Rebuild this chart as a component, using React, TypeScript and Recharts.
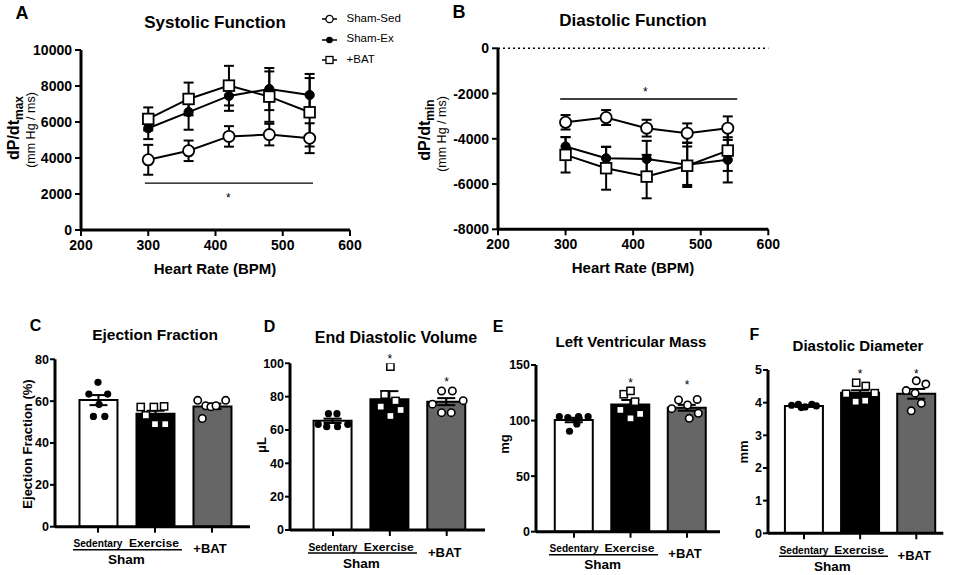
import React from 'react';
import {
  LineChart, Line, XAxis, YAxis, ErrorBar, ReferenceLine, ReferenceDot,
  ComposedChart, Bar, Cell, Scatter,
} from 'recharts';

const FONT = '"Liberation Sans", Arial, Helvetica, sans-serif';

// ---------- Panels A & B (hemodynamics vs heart rate) ----------
const heartRate = [300, 360, 420, 480, 540];
const hrTicks = [200, 300, 400, 500, 600];
const sysTicks = [0, 2000, 4000, 6000, 8000, 10000];
const diaTicks = [-8000, -6000, -4000, -2000, 0];
const seriesNames = ['Sham-Sed', 'Sham-Ex', '+BAT'];

const sysSed = [3900, 4400, 5200, 5300, 5100];
const sysSedErr = [830, 570, 570, 600, 830];
const sysEx = [5650, 6550, 7450, 7830, 7500];
const sysExErr = [600, 980, 830, 1170, 1170];
const sysBat = [6170, 7280, 8020, 7410, 6540];
const sysBatErr = [640, 910, 1100, 1400, 1900];

const diaSed = [-3270, -3060, -3530, -3750, -3530];
const diaSedErr = [320, 330, 370, 430, 520];
const diaEx = [-4340, -4860, -4890, -5150, -4930];
const diaExErr = [420, 500, 800, 980, 1000];
const diaBat = [-4710, -5300, -5670, -5190, -4520];
const diaBatErr = [780, 950, 960, 850, 900];

// significance bars (x from, x to, y) and star (x, y)
const sysSig = [295, 545, 2600];
const sysStar = [419, 1940];
const diaSig = [292, 554, -2240];
const diaStar = [418, -1840];

// ---------- Panels C-F (bar + individual points) ----------
const groupLabels = ['Sedentary', 'Exercise', '+BAT'];
const barFills = ['#ffffff', '#000000', '#666666'];

// C: Ejection Fraction (%)
const efMean = [60.5, 54.0, 57.5];
const efSem = [2.4, 1.4, 1.3];
const efSedVals = [69.0, 63.4, 63.4, 58.5, 52.7, 52.7];
const efSedPos = [1.0, 0.84, 1.17, 1.02, 0.92, 1.12];
const efExVals = [57.2, 57.2, 57.5, 53.2, 49.0, 49.0];
const efExPos = [1.75, 1.98, 2.16, 1.84, 2.0, 2.18];
const efBatVals = [60.4, 57.8, 57.3, 57.8, 60.4, 51.7];
const efBatPos = [2.75, 2.89, 2.98, 3.07, 3.24, 2.83];

// D: End Diastolic Volume (uL)
const edvMean = [65.5, 78.5, 77.0];
const edvSem = [1.3, 4.8, 2.1];
const edvSedVals = [69.8, 69.8, 63.4, 62.0, 62.0, 63.4];
const edvSedPos = [0.92, 1.07, 0.74, 0.89, 1.08, 1.26];
const edvExVals = [98.0, 81.2, 77.4, 74.0, 72.0, 68.4];
const edvExPos = [2.01, 1.91, 2.1, 1.84, 2.19, 2.01];
const edvBatVals = [83.4, 83.4, 75.5, 77.6, 70.4, 70.4];
const edvBatPos = [2.91, 3.1, 2.75, 3.29, 2.91, 3.08];
const edvStars = [[2, 104], [3, 90]];

// E: Left Ventricular Mass (mg)
const lvmMean = [100.5, 114.5, 111.5];
const lvmSem = [2.0, 4.0, 2.6];
const lvmSedVals = [103.5, 102.6, 103.5, 103.5, 97.0, 90.4];
const lvmSedPos = [0.74, 0.89, 1.08, 1.25, 1.05, 0.92];
const lvmExVals = [123.7, 126.7, 117.0, 109.6, 106.0, 102.0];
const lvmExPos = [1.88, 2.0, 2.08, 1.82, 2.17, 2.0];
const lvmBatVals = [118.5, 114.0, 119.0, 110.7, 106.6, 102.0];
const lvmBatPos = [2.85, 3.01, 3.18, 2.73, 3.2, 3.04];
const lvmStars = [[2, 136], [3, 134]];

// F: Diastolic Diameter (mm)
const ddMean = [3.9, 4.3, 4.27];
const ddSem = [0.03, 0.08, 0.15];
const ddSedVals = [3.92, 3.95, 3.87, 3.95, 3.9, 3.85];
const ddSedPos = [0.78, 0.9, 1.02, 1.14, 1.22, 0.95];
const ddExVals = [4.61, 4.51, 4.27, 4.29, 4.03, 4.06];
const ddExPos = [1.93, 2.1, 1.75, 2.26, 1.92, 2.09];
const ddBatVals = [4.67, 4.57, 4.37, 4.29, 3.98, 3.75];
const ddBatPos = [3.0, 3.17, 2.82, 2.98, 3.09, 2.91];
const ddStars = [[2, 4.95], [3, 4.95]];

// ---------- shared styles ----------
const axisLine = { stroke: '#000', strokeWidth: 3 };
const tickLine = { stroke: '#000', strokeWidth: 2 };
const lineTick = { fill: '#000', fontSize: 14, fontWeight: 700, fontFamily: FONT };
const barTick = { fill: '#000', fontSize: 12.5, fontWeight: 700, fontFamily: FONT };

const OpenCircle = (p: any) =>
  p.cx == null ? <g /> : <circle cx={p.cx} cy={p.cy} r={5.6} fill="#fff" stroke="#000" strokeWidth={1.8} />;
const FilledCircle = (p: any) =>
  p.cx == null ? <g /> : <circle cx={p.cx} cy={p.cy} r={4.6} fill="#000" stroke="#000" strokeWidth={1} />;
const OpenSquare = (p: any) =>
  p.cx == null ? <g /> : <rect x={p.cx - 5.3} y={p.cy - 5.3} width={10.6} height={10.6} fill="#fff" stroke="#000" strokeWidth={1.8} />;

const DotFilled = (p: any) => <circle cx={p.cx} cy={p.cy} r={3.6} fill="#000" />;
const DotSquare = (p: any) => <rect x={p.cx - 3.6} y={p.cy - 3.6} width={7.2} height={7.2} fill="#fff" stroke="#000" strokeWidth={1.5} />;
const DotOpen = (p: any) => <circle cx={p.cx} cy={p.cy} r={3.7} fill="#fff" stroke="#000" strokeWidth={1.6} />;

const Star = (p: any) =>
  p.cx == null ? <g /> : (
    <text x={p.cx} y={p.cy + 6.5} textAnchor="middle" fontSize={12} fontFamily={FONT} fill="#000">*</text>
  );

function Txt({ x, y, size, bold = true, rotate = false, children }: any) {
  return (
    <div
      style={{
        position: 'absolute', left: x, top: y,
        transform: `translate(-50%, -50%)${rotate ? ' rotate(-90deg)' : ''}`,
        fontSize: size, fontWeight: bold ? 700 : 400, fontFamily: FONT,
        lineHeight: 1, whiteSpace: 'nowrap', color: '#000',
      }}
    >
      {children}
    </div>
  );
}

function buildHrData(sed: number[], sedE: number[], ex: number[], exE: number[], bat: number[], batE: number[]) {
  return heartRate.map((hr, i) => ({
    hr, sed: sed[i], sedErr: sedE[i], ex: ex[i], exErr: exE[i], bat: bat[i], batErr: batE[i],
  }));
}

function HrChart({ left, width, yWidth, marginTop, marginRight, bottom, data, yDomain, yTicks, sig, star, zeroLine }: any) {
  return (
    <div style={{ position: 'absolute', left, top: 0 }}>
      <LineChart width={width} height={290} data={data}
        margin={{ top: marginTop, right: marginRight, left: 0, bottom }}>
        <XAxis dataKey="hr" type="number" domain={[200, 600]} ticks={hrTicks} allowDataOverflow
          axisLine={axisLine} tickLine={tickLine} tickSize={6} tickMargin={4} tick={lineTick} height={30} interval={0} />
        <YAxis type="number" domain={yDomain} ticks={yTicks} allowDataOverflow width={yWidth}
          axisLine={axisLine} tickLine={tickLine} tickSize={6} tickMargin={3} tick={lineTick} interval={0} />
        {zeroLine && <ReferenceLine y={0} stroke="#000" strokeWidth={1.5} strokeDasharray="2 3" />}
        <ReferenceLine segment={[{ x: sig[0], y: sig[2] }, { x: sig[1], y: sig[2] }]} stroke="#000" strokeWidth={1.3} />
        <ReferenceDot x={star[0]} y={star[1]} r={0} shape={Star} ifOverflow="visible" />
        <Line dataKey="sed" type="linear" stroke="#000" strokeWidth={2} dot={OpenCircle} isAnimationActive={false}>
          <ErrorBar dataKey="sedErr" width={5} stroke="#000" strokeWidth={2} direction="y" />
        </Line>
        <Line dataKey="ex" type="linear" stroke="#000" strokeWidth={2} dot={FilledCircle} isAnimationActive={false}>
          <ErrorBar dataKey="exErr" width={5} stroke="#000" strokeWidth={2} direction="y" />
        </Line>
        <Line dataKey="bat" type="linear" stroke="#000" strokeWidth={2} dot={OpenSquare} isAnimationActive={false}>
          <ErrorBar dataKey="batErr" width={5} stroke="#000" strokeWidth={2} direction="y" />
        </Line>
      </LineChart>
    </div>
  );
}

const GroupTick = (p: any) => {
  const { x, y, payload } = p;
  const v = payload.value;
  if (v === groupLabels[0]) {
    return (
      <g>
        <text x={x} y={y + 12.6} textAnchor="middle" fontSize={11.8} fontWeight={700} fontFamily={FONT}
          textLength={49} lengthAdjust="spacingAndGlyphs" fill="#000">{groupLabels[0]}</text>
        <line x1={x - 25} x2={x + 84} y1={y + 15} y2={y + 15} stroke="#000" strokeWidth={1.5} />
        <text x={x + 28.5} y={y + 29.7} textAnchor="middle" fontSize={13.5} fontWeight={700} fontFamily={FONT} fill="#000">Sham</text>
      </g>
    );
  }
  if (v === groupLabels[1]) {
    return (
      <text x={x - 1} y={y + 12.6} textAnchor="middle" fontSize={11.8} fontWeight={700} fontFamily={FONT}
        textLength={50} lengthAdjust="spacingAndGlyphs" fill="#000">{groupLabels[1]}</text>
    );
  }
  return (
    <text x={x - 2} y={y + 18.5} textAnchor="middle" fontSize={13} fontWeight={700} fontFamily={FONT} fill="#000">{groupLabels[2]}</text>
  );
};

function toPts(vals: number[], pos: number[]) {
  return vals.map((y, i) => ({ px: pos[i], y }));
}

// Category band axis for bars + hidden numeric axis (same extent) for the jittered points.
function BarPanel({ left, width, yWidth, margin, xDomain, yDomain, yTicks, means, sems, sed, ex, bat, stars }: any) {
  const data = groupLabels.map((name, i) => ({ name, mean: means[i], sem: sems[i] }));
  const plotW = width - yWidth - margin.right;
  const unit = plotW / (xDomain[1] - xDomain[0]);
  const padL = (1 - xDomain[0]) * unit - unit / 2;
  const padR = (xDomain[1] - 3) * unit - unit / 2;
  return (
    <div style={{ position: 'absolute', left, top: 310 }}>
      <ComposedChart width={width} height={265} data={data} margin={margin} barCategoryGap={0}>
        <XAxis dataKey="name" type="category" padding={{ left: padL, right: padR }}
          axisLine={axisLine} tickLine={tickLine} tickSize={6} tickMargin={2}
          tick={(t: any) => <GroupTick {...t} />} height={30} interval={0} />
        <XAxis xAxisId="num" dataKey="px" type="number" domain={xDomain} allowDataOverflow hide />
        <YAxis type="number" domain={yDomain} ticks={yTicks} allowDataOverflow width={yWidth}
          axisLine={axisLine} tickLine={tickLine} tickSize={5} tickMargin={1} tick={barTick} interval={0} />
        <Bar dataKey="mean" barSize={38} stroke="#000" strokeWidth={2} isAnimationActive={false}>
          {barFills.map((f, i) => <Cell key={i} fill={f} />)}
          <ErrorBar dataKey="sem" width={9} stroke="#000" strokeWidth={2} direction="y" />
        </Bar>
        <Scatter xAxisId="num" data={sed} dataKey="y" shape={DotFilled} isAnimationActive={false} />
        <Scatter xAxisId="num" data={ex} dataKey="y" shape={DotSquare} isAnimationActive={false} />
        <Scatter xAxisId="num" data={bat} dataKey="y" shape={DotOpen} isAnimationActive={false} />
        {(stars || []).map((s: number[], i: number) => (
          <ReferenceDot key={i} xAxisId="num" x={s[0]} y={s[1]} r={0} shape={Star} ifOverflow="visible" />
        ))}
      </ComposedChart>
    </div>
  );
}

function LegendIcon({ kind }: any) {
  return (
    <svg width={18} height={12} style={{ position: 'absolute', left: 0, top: -6 }}>
      <line x1={0} x2={15} y1={6} y2={6} stroke="#000" strokeWidth={1.5} />
      {kind === 0 && <circle cx={7.5} cy={6} r={3.6} fill="#fff" stroke="#000" strokeWidth={1.3} />}
      {kind === 1 && <circle cx={7.5} cy={6} r={3.3} fill="#000" />}
      {kind === 2 && <rect x={4} y={2.5} width={7} height={7} fill="#fff" stroke="#000" strokeWidth={1.3} />}
    </svg>
  );
}

export default function App() {
  const sysData = buildHrData(sysSed, sysSedErr, sysEx, sysExErr, sysBat, sysBatErr);
  const diaData = buildHrData(diaSed, diaSedErr, diaEx, diaExErr, diaBat, diaBatErr);
  const legendY = [19, 39.5, 60];

  return (
    <div style={{ position: 'absolute', left: 0, top: 0, width: 957, height: 575, background: '#fff', overflow: 'hidden', fontFamily: FONT }}>
      {/* Panel A */}
      <HrChart left={0} width={372} yWidth={81} marginTop={50} marginRight={22} bottom={30}
        data={sysData} yDomain={[0, 10000]} yTicks={sysTicks} sig={sysSig} star={sysStar} />
      {/* Panel B */}
      <HrChart left={400} width={390} yWidth={98} marginTop={48.3} marginRight={21.7} bottom={30.7}
        data={diaData} yDomain={[-8000, 0]} yTicks={diaTicks} sig={diaSig} star={diaStar} zeroLine />

      <Txt x={22} y={12.5} size={18}>A</Txt>
      <Txt x={459} y={11.7} size={18}>B</Txt>
      <Txt x={215} y={21.5} size={17}>Systolic Function</Txt>
      <Txt x={633} y={19.7} size={17}>Diastolic Function</Txt>
      <Txt x={215} y={268} size={15}>Heart Rate (BPM)</Txt>
      <Txt x={633} y={266.7} size={15}>Heart Rate (BPM)</Txt>

      <Txt x={14} y={128} size={16} rotate>
        dP/dt<span style={{ fontSize: 12, position: 'relative', top: 4 }}>max</span>
      </Txt>
      <Txt x={30.5} y={130} size={12.5} bold={false} rotate>(mm Hg / ms)</Txt>
      <Txt x={425} y={130} size={16} rotate>
        dP/dt<span style={{ fontSize: 12, position: 'relative', top: 4 }}>min</span>
      </Txt>
      <Txt x={441.5} y={134} size={12.5} bold={false} rotate>(mm Hg / ms)</Txt>

      {seriesNames.map((n, i) => (
        <div key={n} style={{ position: 'absolute', left: 321.5, top: legendY[i] }}>
          <LegendIcon kind={i} />
          <div style={{ position: 'absolute', left: 25, top: -6.5, fontSize: 11.5, lineHeight: 1, whiteSpace: 'nowrap', fontFamily: FONT }}>{n}</div>
        </div>
      ))}

      {/* Panel C */}
      <BarPanel left={0} width={260} yWidth={55} margin={{ top: 49.3, right: 10, left: 0, bottom: 18.3 }}
        xDomain={[0.246, 3.667]} yDomain={[0, 80]} yTicks={[0, 20, 40, 60, 80]}
        means={efMean} sems={efSem}
        sed={toPts(efSedVals, efSedPos)} ex={toPts(efExVals, efExPos)} bat={toPts(efBatVals, efBatPos)} stars={[]} />
      {/* Panel D */}
      <BarPanel left={240} width={250} yWidth={50} margin={{ top: 53.3, right: 5, left: 0, bottom: 15 }}
        xDomain={[0.244, 3.674]} yDomain={[0, 100]} yTicks={[0, 20, 40, 60, 80, 100]}
        means={edvMean} sems={edvSem}
        sed={toPts(edvSedVals, edvSedPos)} ex={toPts(edvExVals, edvExPos)} bat={toPts(edvBatVals, edvBatPos)} stars={edvStars} />
      {/* Panel E */}
      <BarPanel left={486} width={240} yWidth={50} margin={{ top: 55, right: 6, left: 0, bottom: 13.3 }}
        xDomain={[0.327, 3.584]} yDomain={[0, 150]} yTicks={[0, 50, 100, 150]}
        means={lvmMean} sems={lvmSem}
        sed={toPts(lvmSedVals, lvmSedPos)} ex={toPts(lvmExVals, lvmExPos)} bat={toPts(lvmBatVals, lvmBatPos)} stars={lvmStars} />
      {/* Panel F */}
      <BarPanel left={718} width={230} yWidth={50} margin={{ top: 60, right: 4.7, left: 0, bottom: 11.7 }}
        xDomain={[0.359, 3.481]} yDomain={[0, 5]} yTicks={[0, 1, 2, 3, 4, 5]}
        means={ddMean} sems={ddSem}
        sed={toPts(ddSedVals, ddSedPos)} ex={toPts(ddExVals, ddExPos)} bat={toPts(ddBatVals, ddBatPos)} stars={ddStars} />

      <Txt x={35.5} y={325.5} size={16}>C</Txt>
      <Txt x={269.5} y={327} size={16}>D</Txt>
      <Txt x={498} y={327} size={16}>E</Txt>
      <Txt x={754.5} y={335.3} size={16}>F</Txt>
      <Txt x={155} y={335} size={15.5}>Ejection Fraction</Txt>
      <Txt x={396} y={337.5} size={16}>End Diastolic Volume</Txt>
      <Txt x={631} y={341} size={15}>Left Ventricular Mass</Txt>
      <Txt x={858} y={345.3} size={15}>Diastolic Diameter</Txt>

      <Txt x={26.7} y={444} size={13} rotate>Ejection Fraction (%)</Txt>
      <Txt x={261} y={445} size={13} rotate>μL</Txt>
      <Txt x={504} y={444} size={13} rotate>mg</Txt>
      <Txt x={743} y={452} size={13} rotate>mm</Txt>
    </div>
  );
}
